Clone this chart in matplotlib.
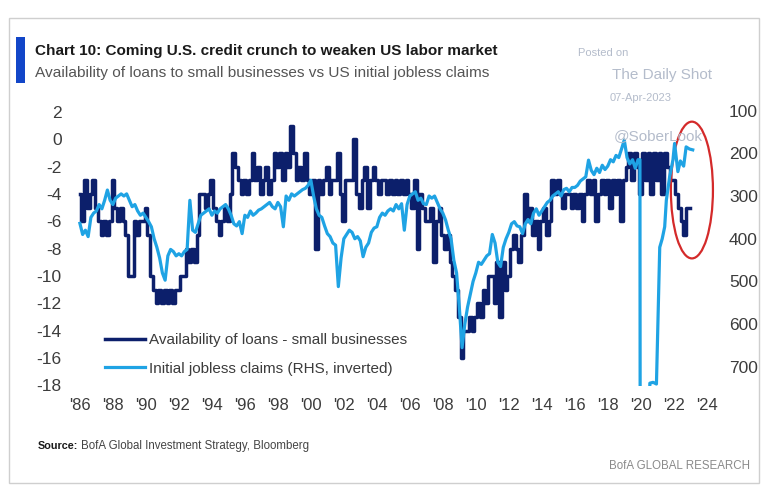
"""
Chart 10: availability of loans to small businesses vs US initial jobless claims.
"""
import numpy as np
import matplotlib
matplotlib.use("Agg")
import matplotlib.pyplot as plt
from matplotlib.patches import Ellipse, Rectangle

plt.rcParams['font.family'] = ['Liberation Sans', 'DejaVu Sans']

DARK = '#0c1f6b'
LIGHT = '#1fa3e4'
TEXT = '#3c3c3c'

# Availability of loans - small businesses, every 2 months from Jan 1986
loans_start = 1986.0
loans = [
    -4, -6, -3, -5, -4, -3,       # 1986
    -5, -6, -7, -6, -7, -6,       # 1987
    -3, -5, -6, -5, -6, -7,       # 1988
    -10, -10, -6, -7, -6, -6,     # 1989
    -5, -7, -10, -11, -12, -11,   # 1990
    -12, -11, -12, -11, -12, -11, # 1991
    -11, -10, -10, -8, -9, -8,    # 1992
    -9, -7, -4, -4, -5, -4,       # 1993
    -3, -5, -6, -7, -6, -5,       # 1994
    -6, -4, -1, -2, -3, -4,       # 1995
    -3, -4, -3, -1, -3, -2,       # 1996
    -4, -3, -2, -4, -3, -1,       # 1997
    -2, -1, -3, -1, -2, 1,        # 1998
    -1, -3, -2, -3, -1, -3,       # 1999
    -4, -3, -8, -3, -4, -3,       # 2000
    -2, -4, -3, -3, -1, -4,       # 2001
    -6, -3, -3, -3, 0, -4,        # 2002
    -5, -3, -2, -5, -3, -2,       # 2003
    -3, -4, -3, -3, -4, -3,       # 2004
    -4, -3, -4, -3, -4, -3,       # 2005
    -4, -5, -3, -8, -4, -5,       # 2006
    -6, -6, -5, -9, -6, -5,       # 2007
    -7, -8, -7, -9, -10, -11,     # 2008
    -13, -16, -14, -14, -13, -14, # 2009
    -13, -12, -13, -11, -12, -10, # 2010
    -10, -12, -9, -13, -9, -11,   # 2011
    -10, -8, -7, -8, -9, -7,      # 2012
    -4, -6, -5, -7, -6, -8,       # 2013
    -6, -5, -7, -6, -3, -4,       # 2014
    -3, -4, -5, -4, -4, -5,       # 2015
    -4, -5, -4, -6, -4, -3,       # 2016
    -4, -3, -6, -4, -3, -4,       # 2017
    -3, -5, -3, -4, -3, -6,       # 2018
    -3, -2, -1, -3, -1, -2,       # 2019
    -4, -1, -3, -1, -4, -1,       # 2020
    -3, -1, -4, -1, -2, -3,       # 2021
    -3, -4, -5, -6, -7, -5,       # 2022
    -5,                           # 2023
]

# Initial jobless claims ('000, RHS inverted), every 2 months Jan 1986 - Nov 2019
claims_start = 1986.0
claims = [
    364, 390, 380, 395, 350, 340,  # 1986
    335, 320, 330, 310, 286, 310,  # 1987
    320, 305, 300, 295, 300, 295,  # 1988
    310, 325, 320, 335, 345, 340,  # 1989
    350, 360, 372, 400, 420, 445,  # 1990
    480, 497, 440, 425, 430, 440,  # 1991
    435, 440, 430, 425, 310, 380,  # 1992
    385, 365, 345, 340, 335, 330,  # 1993
    345, 335, 340, 330, 325, 320,  # 1994
    330, 345, 365, 370, 360, 388,  # 1995
    345, 350, 335, 345, 340, 333,  # 1996
    330, 325, 320, 315, 325, 330,  # 1997
    315, 325, 372, 300, 310, 295,  # 1998
    300, 295, 290, 285, 282, 275,  # 1999
    263, 300, 330, 345, 350, 370,  # 2000
    388, 395, 410, 415, 512, 445,  # 2001
    400, 390, 380, 385, 400, 395,  # 2002
    405, 442, 420, 410, 385, 375,  # 2003
    372, 350, 340, 345, 335, 330,  # 2004
    335, 320, 330, 318, 380, 320,  # 2005
    300, 295, 290, 310, 305, 318,  # 2006
    320, 300, 305, 300, 315, 330,  # 2007
    340, 356, 380, 400, 450, 480,  # 2008
    560, 655, 600, 560, 530, 500,  # 2009
    480, 455, 460, 450, 440, 435,  # 2010
    390, 410, 455, 465, 420, 400,  # 2011
    385, 365, 360, 370, 372, 388,  # 2012
    365, 355, 365, 340, 330, 345,  # 2013
    335, 325, 315, 310, 300, 295,  # 2014
    290, 300, 285, 282, 290, 280,  # 2015
    280, 275, 265, 260, 255, 216,  # 2016
    240, 250, 235, 245, 228, 238,  # 2017
    230, 215, 220, 205, 210, 190,  # 2018
    169, 210, 225, 215, 235, 215,  # 2019
]
# covid period and after, irregular dates
claims_tail_years = [2019.95, 2020.02, 2020.3, 2020.5, 2020.55, 2020.75, 2020.95,
                     2021.15, 2021.3, 2021.45, 2021.55, 2021.75, 2021.95, 2022.05,
                     2022.25, 2022.4, 2022.6, 2022.75, 2022.95, 2023.15]
claims_tail = [215, 3500, 2500, 900, 738, 736, 740,
               420, 400, 372, 310, 255, 216, 177,
               243, 218, 230, 185, 190, 192]

year_ticks = list(range(1986, 2025, 2))
year_labels = ["'%02d" % (y % 100) for y in year_ticks]
left_ticks = list(range(2, -19, -2))
right_ticks = list(range(100, 701, 100))

W, H = 768, 500


def fx(x):
    return x / W


def fy(y):
    return 1 - y / H


fig = plt.figure(figsize=(W / 100, H / 100), dpi=100)

# axes box in pixels: x 70..715, y 105..386
ax = fig.add_axes([fx(70), fy(386), (715 - 70) / W, (386 - 105) / H])
ax2 = ax.twinx()

loan_years = loans_start + np.arange(len(loans)) / 6.0
claim_years = np.concatenate([claims_start + np.arange(len(claims)) / 6.0, claims_tail_years])
claim_vals = np.concatenate([claims, claims_tail])

ax.plot(loan_years, loans, drawstyle='steps-mid', color=DARK, lw=2.5,
        label='Availability of loans - small businesses')
ax2.plot(claim_years, claim_vals, color=LIGHT, lw=2.3,
         label='Initial jobless claims (RHS, inverted)')

# left -> right mapping: r = 103 + 32 * (2 - v)
vlo, vhi = -18.05, 2.5
ax.set_ylim(vlo, vhi)
ax2.set_ylim(103 + 32 * (2 - vlo), 103 + 32 * (2 - vhi))
ax.set_xlim(1985.4, 2024.5)

ax.set_yticks(left_ticks)
ax.set_yticklabels([str(t) for t in left_ticks])
ax2.set_yticks(right_ticks)
ax.set_xticks(year_ticks)
ax.set_xticklabels(year_labels)

for a in (ax, ax2):
    for s in a.spines.values():
        s.set_visible(False)
    a.tick_params(length=0, labelsize=12.5, labelcolor=TEXT)
ax.tick_params(axis='y', pad=6)
ax.tick_params(axis='x', pad=9, labelsize=12)
ax2.tick_params(axis='y', pad=10)

ax2.add_patch(Ellipse((2023.1, 286), 2.55, 320, fill=False, ec='#d42a2a', lw=1.6))

# legend
h1, l1 = ax.get_legend_handles_labels()
h2, l2 = ax2.get_legend_handles_labels()
ax2.legend(h1 + h2, l1 + l2, loc='upper left', bbox_to_anchor=(fx(105), fy(333)),
           bbox_transform=fig.transFigure, frameon=False, fontsize=11,
           handlelength=2.6, handletextpad=0.3, borderpad=0, borderaxespad=0,
           labelspacing=0.95, labelcolor=TEXT)

# titles
fig.patches.append(Rectangle((fx(16), fy(83)), 9 / W, 46 / H, transform=fig.transFigure,
                             fc='#1246c8', ec='none'))
fig.text(fx(35), fy(51), 'Chart 10: Coming U.S. credit crunch to weaken US labor market',
         fontsize=11, fontweight='bold', color='#1a1a1a', va='center')
fig.text(fx(35), fy(73), 'Availability of loans to small businesses vs US initial jobless claims',
         fontsize=11.1, color='#555555', va='center')

# watermark
wm = '#b4bccb'
fig.text(fx(578), fy(53), 'Posted on', fontsize=8, color=wm, va='center')
fig.text(fx(612), fy(75), 'The Daily Shot', fontsize=11, color=wm, va='center')
fig.text(fx(610), fy(98), '07-Apr-2023', fontsize=8, color=wm, va='center')
fig.text(fx(614), fy(136), '@SoberLook', fontsize=11, color=wm, va='center', zorder=0)

# source / footer
fig.text(fx(38), fy(446), 'Source:', fontsize=7.8, fontweight='bold', color='#1a1a1a', va='center')
fig.text(fx(81), fy(446), 'BofA Global Investment Strategy, Bloomberg', fontsize=8.3,
         color='#444444', va='center')
fig.text(fx(750), fy(466), 'BofA GLOBAL RESEARCH', fontsize=8.3, color='#8a8a8a',
         va='center', ha='right')

# outer frame
fig.patches.append(Rectangle((fx(9), fy(483)), (759 - 9) / W, (483 - 18) / H,
                             transform=fig.transFigure, fill=False, ec='#cfcfcf', lw=1))

fig.savefig('out.png', dpi=100)
